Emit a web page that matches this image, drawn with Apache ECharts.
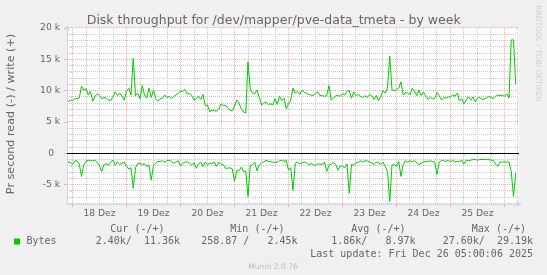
<!DOCTYPE html>
<html><head><meta charset="utf-8">
<script src="https://cdn.jsdelivr.net/npm/echarts@6/dist/echarts.min.js"></script>
<style>html,body{margin:0;padding:0;background:#F0F0F0}#c{width:547px;height:275px}</style>
</head><body><div id="c"></div>
<script>
// time in hours relative to 18 Dez 00:00, one sample per hour
const START_H = -2, STEP_H = 1;
const X_MIN = -2.45, X_MAX = 198.45;
const Y_MIN = -8100, Y_MAX = 20000;

// write (+), Bytes per second
const WRITE = [
  8200, 8500, 8400, 8700, 8700, 8800, 10700, 10100, 10300, 9300,
  9900, 8300, 9100, 9500, 9200, 8700, 8900, 8800, 8500, 8400,
  9100, 9800, 9200, 9600, 9100, 8500, 9900, 10400, 9300, 15200,
  9200, 9600, 8700, 10800, 9300, 8800, 10400, 8900, 10100, 8700,
  8300, 8700, 8800, 9300, 8900, 9100, 8700, 9100, 9300, 9600,
  9900, 9900, 10200, 9400, 9600, 9200, 8500, 8700, 9100, 8600,
  9400, 7600, 7700, 6600, 6900, 6800, 6700, 7100, 7900, 7600,
  7700, 7200, 6900, 6800, 7500, 8500, 8000, 7100, 6600, 6400,
  14600, 10300, 9600, 9500, 10100, 8900, 7700, 8000, 8200, 7800,
  7900, 7700, 8700, 7800, 9100, 8400, 8800, 7100, 7900, 8500,
  10400, 9600, 9900, 9400, 10100, 9700, 9600, 9400, 9300, 9200,
  9600, 9800, 9200, 9200, 9100, 9200, 10800, 8500, 8800, 9200,
  9200, 9100, 9500, 9300, 9900, 10000, 8800, 9800, 9200, 9400,
  9100, 8900, 9200, 8900, 9400, 9200, 8600, 9200, 8400, 9100,
  10000, 9600, 10400, 15500, 10100, 10000, 10200, 10400, 11400, 9300,
  9700, 9600, 9300, 10400, 9900, 9200, 10100, 9200, 9800, 9100,
  8600, 8900, 8700, 8700, 9700, 9200, 8500, 8900, 8800, 9000,
  9000, 9300, 9100, 9600, 8400, 8700, 7900, 8500, 9000, 8500,
  9000, 8200, 8800, 8900, 8600, 8700, 8800, 9100, 8900, 8700,
  9100, 9300, 9200, 9300, 9100, 9500, 8800, 18100, 18100, 11000
];
// read (-), Bytes per second (graphed negative)
const READ = [
  1500, 1400, 1800, 1200, 1200, 1700, 3700, 1900, 1300, 1100,
  1200, 1200, 1100, 1500, 2000, 2900, 1800, 1700, 1900, 1400,
  1100, 1900, 1400, 1800, 1600, 1400, 2100, 2500, 2300, 5600,
  2300, 1600, 1600, 1800, 1700, 2100, 1900, 4300, 1900, 1600,
  1300, 1300, 1200, 1400, 1200, 1100, 1300, 1600, 1400, 1200,
  2000, 1600, 1400, 1400, 1600, 1900, 1500, 2400, 1700, 1400,
  2100, 1400, 1800, 1600, 1600, 1400, 2100, 1400, 1800, 1800,
  2400, 2400, 2300, 2500, 4500, 2800, 2800, 2200, 2900, 2900,
  6900, 2000, 1800, 1400, 2800, 1900, 1500, 1400, 1100, 1300,
  1300, 1400, 1500, 1400, 1200, 1100, 1300, 1100, 2700, 2300,
  5900, 1600, 1400, 1700, 1500, 1400, 1500, 1900, 1600, 1900,
  1900, 1700, 1700, 1800, 1400, 2900, 1900, 1700, 1500, 1800,
  2700, 2000, 2100, 2300, 1700, 6400, 1800, 1900, 1500, 1500,
  1200, 1400, 1200, 1200, 1400, 1500, 1800, 1400, 1500, 1800,
  1400, 2100, 2900, 7700, 1900, 1800, 2100, 1300, 3700, 1800,
  1200, 1400, 1200, 1300, 1200, 1500, 1800, 1600, 1400, 1300,
  1300, 1200, 1300, 1400, 3400, 1400, 1100, 1200, 1300, 1100,
  1400, 1100, 1400, 1300, 1300, 1100, 1700, 1100, 1200, 1100,
  1000, 1000, 1100, 1000, 1000, 1000, 1000, 1000, 1100, 1100,
  1700, 2100, 1400, 1400, 1400, 1400, 1400, 2900, 6900, 3100
];
const DAY_LABELS = ['18 Dez', '19 Dez', '20 Dez', '21 Dez', '22 Dez', '23 Dez', '24 Dez', '25 Dez'];
const DAY_MIDNIGHTS = [0, 24, 48, 72, 96, 120, 144, 168, 192];
const DAY_NOONS = [12, 36, 60, 84, 108, 132, 156, 180];
const X_MINOR = [6, 12, 18, 30, 36, 42, 54, 60, 66, 78, 84, 90, 102, 108, 114, 126, 132, 138, 150, 156, 162, 174, 180, 186, 198];
const Y_MAJOR = [-5000, 0, 5000, 10000, 15000, 20000];
const Y_MINOR = [-8000, -7000, -6000, -4000, -3000, -2000, -1000, 1000, 2000, 3000, 4000, 6000, 7000, 8000, 9000,
  11000, 12000, 13000, 14000, 16000, 17000, 18000, 19000];

const TITLE = 'Disk throughput for /dev/mapper/pve-data_tmeta - by week';
const Y_TITLE = 'Pr second read (-) / write (+)';
const LEGEND_NAME = 'Bytes';
const STAT_HEADERS = ['Cur (-/+)', 'Min (-/+)', 'Avg (-/+)', 'Max (-/+)'];
const STAT_VALUES = ['2.40k/  11.36k', '258.87 /   2.45k', '1.86k/   8.97k', '27.60k/  29.19k'];
const LAST_UPDATE = 'Last update: Fri Dec 26 05:00:06 2025';
const FOOTER = 'Munin 2.0.76';
const WATERMARK = 'RRDTOOL / TOBI OETIKER';

const HOURS = WRITE.map((_, i) => START_H + STEP_H * i);

const GREEN = '#00CC00', FONT_C = '#666666', AXIS_C = '#CFD6F8';
const MGRID = '#F4ABAB', GRID = '#C8C8C8';
const SANS = '"DejaVu Sans", sans-serif', MONO = '"DejaVu Sans Mono", monospace';

const chart = echarts.init(document.getElementById('c'), null, {renderer: 'canvas'});

const monoText = (text, x, y, align) => ({
  type: 'text', x, y, silent: true,
  style: {text, fill: FONT_C, font: '10px ' + MONO, textAlign: align, textVerticalAlign: 'middle'}
});
const HEADER_RIGHT = [164.5, 284.5, 405.5, 526];
const VALUE_RIGHT = [180, 297.5, 415.5, 533];

const elements = [
  {type: 'text', x: 273.7, y: 20.5, silent: true,
   style: {text: TITLE, fill: FONT_C, font: '12.5px ' + SANS, textAlign: 'center', textVerticalAlign: 'middle'}},
  {type: 'text', x: 11, y: 114, rotation: Math.PI / 2, silent: true,
   style: {text: Y_TITLE, fill: FONT_C, font: '11.2px ' + SANS, textAlign: 'center', textVerticalAlign: 'middle'}},
  {type: 'text', x: 537.5, y: 53.5, rotation: -Math.PI / 2, silent: true,
   style: {text: WATERMARK, fill: '#CFCFCF', font: '7.5px ' + SANS, textAlign: 'center', textVerticalAlign: 'middle'}},
  {type: 'rect', silent: true, shape: {x: 14, y: 238.5, width: 6, height: 6}, style: {fill: GREEN}},
  monoText(LEGEND_NAME, 26.5, 241.7, 'left'),
  monoText(LAST_UPDATE, 533, 254.3, 'right'),
  {type: 'text', x: 273, y: 267, silent: true,
   style: {text: FOOTER, fill: '#BBBBBB', font: '7.6px ' + SANS, textAlign: 'center', textVerticalAlign: 'middle'}}
];
STAT_HEADERS.forEach((t, i) => elements.push(monoText(t, HEADER_RIGHT[i], 229, 'right')));
STAT_VALUES.forEach((t, i) => elements.push(monoText(t, VALUE_RIGHT[i], 241.7, 'right')));

// grid line specs: [x, y, orientation (0 vertical, 1 horizontal), kind (0 minor, 1 major, 2 zero)]
const GRID_SPECS = [].concat(
  X_MINOR.map(v => [v, 0, 0, 0]),
  Y_MINOR.map(v => [0, v, 1, 0]),
  DAY_MIDNIGHTS.map(v => [v, 0, 0, 1]),
  Y_MAJOR.filter(v => v !== 0).map(v => [0, v, 1, 1]),
  [[0, 0, 1, 2]]
);
const KIND_STYLE = [
  {stroke: GRID, lineWidth: 1, lineDash: [1, 1]},
  {stroke: MGRID, lineWidth: 1, lineDash: [1, 1]},
  {stroke: '#000000', lineWidth: 1}
];
function renderGrid(params, api) {
  const cs = params.coordSys;
  const p = api.coord([api.value(0), api.value(1)]);
  const kind = api.value(3);
  if (api.value(2) === 0) {
    const x = Math.floor(p[0]) + 0.5;
    return {type: 'line', silent: true, shape: {x1: x, y1: cs.y, x2: x, y2: cs.y + cs.height}, style: KIND_STYLE[kind]};
  }
  const y = Math.floor(p[1]) + 0.5;
  return {type: 'line', silent: true, shape: {x1: cs.x, y1: y, x2: cs.x + cs.width, y2: y}, style: KIND_STYLE[kind]};
}

const baseX = {type: 'value', min: X_MIN, max: X_MAX, position: 'bottom', offset: 0,
               splitLine: {show: false}, axisLabel: {show: false}, axisLine: {show: false}, axisTick: {show: false}};
const baseY = {type: 'value', min: Y_MIN, max: Y_MAX, position: 'left', offset: 0,
               splitLine: {show: false}, axisLabel: {show: false}, axisLine: {show: false}, axisTick: {show: false}};

const option = {
  animation: false,
  backgroundColor: '#F0F0F0',
  grid: {left: 67, top: 28, width: 452, height: 176, show: true, backgroundColor: '#FFFFFF', borderWidth: 0,
         containLabel: false, outerBoundsMode: 'none'},
  xAxis: [
    Object.assign({}, baseX, {
      axisTick: {show: true, customValues: X_MINOR, length: 2, lineStyle: {color: GRID}}}),
    Object.assign({}, baseX, {
      axisLine: {show: true, onZero: false, lineStyle: {color: AXIS_C, width: 1},
                 symbol: ['none', 'arrow'], symbolSize: [5, 6], symbolOffset: [0, 3]},
      axisTick: {show: true, customValues: DAY_MIDNIGHTS, length: 3, lineStyle: {color: MGRID}},
      axisLabel: {show: true, customValues: DAY_NOONS, margin: 5, color: FONT_C, fontSize: 9.2, fontFamily: SANS,
                  formatter: v => DAY_LABELS[DAY_NOONS.indexOf(v)] || ''}})
  ],
  yAxis: [
    Object.assign({}, baseY, {
      axisTick: {show: true, customValues: Y_MINOR, length: 2, lineStyle: {color: GRID}}}),
    Object.assign({}, baseY, {
      axisLine: {show: true, onZero: false, lineStyle: {color: AXIS_C, width: 1},
                 symbol: ['none', 'arrow'], symbolSize: [5, 6], symbolOffset: [0, 3]},
      axisTick: {show: true, customValues: Y_MAJOR, length: 3, lineStyle: {color: MGRID}},
      axisLabel: {show: true, customValues: Y_MAJOR, margin: 7, color: FONT_C, fontSize: 9.2, fontFamily: SANS,
                  formatter: v => v === 0 ? '0  ' : (v / 1000) + ' k'}})
  ],
  series: [
    {type: 'custom', name: 'grid', xAxisIndex: 1, yAxisIndex: 1, z: 1, silent: true, clip: false,
     renderItem: renderGrid, data: GRID_SPECS},
    {type: 'line', name: 'write', xAxisIndex: 1, yAxisIndex: 1, showSymbol: false, symbol: 'none', z: 3,
     data: HOURS.map((h, i) => [h, WRITE[i]]), lineStyle: {color: GREEN, width: 1}, itemStyle: {color: GREEN}},
    {type: 'line', name: 'read', xAxisIndex: 1, yAxisIndex: 1, showSymbol: false, symbol: 'none', z: 3,
     data: HOURS.map((h, i) => [h, -READ[i]]), lineStyle: {color: GREEN, width: 1}, itemStyle: {color: GREEN}}
  ],
  graphic: {elements}
};
chart.setOption(option);
</script></body></html>
